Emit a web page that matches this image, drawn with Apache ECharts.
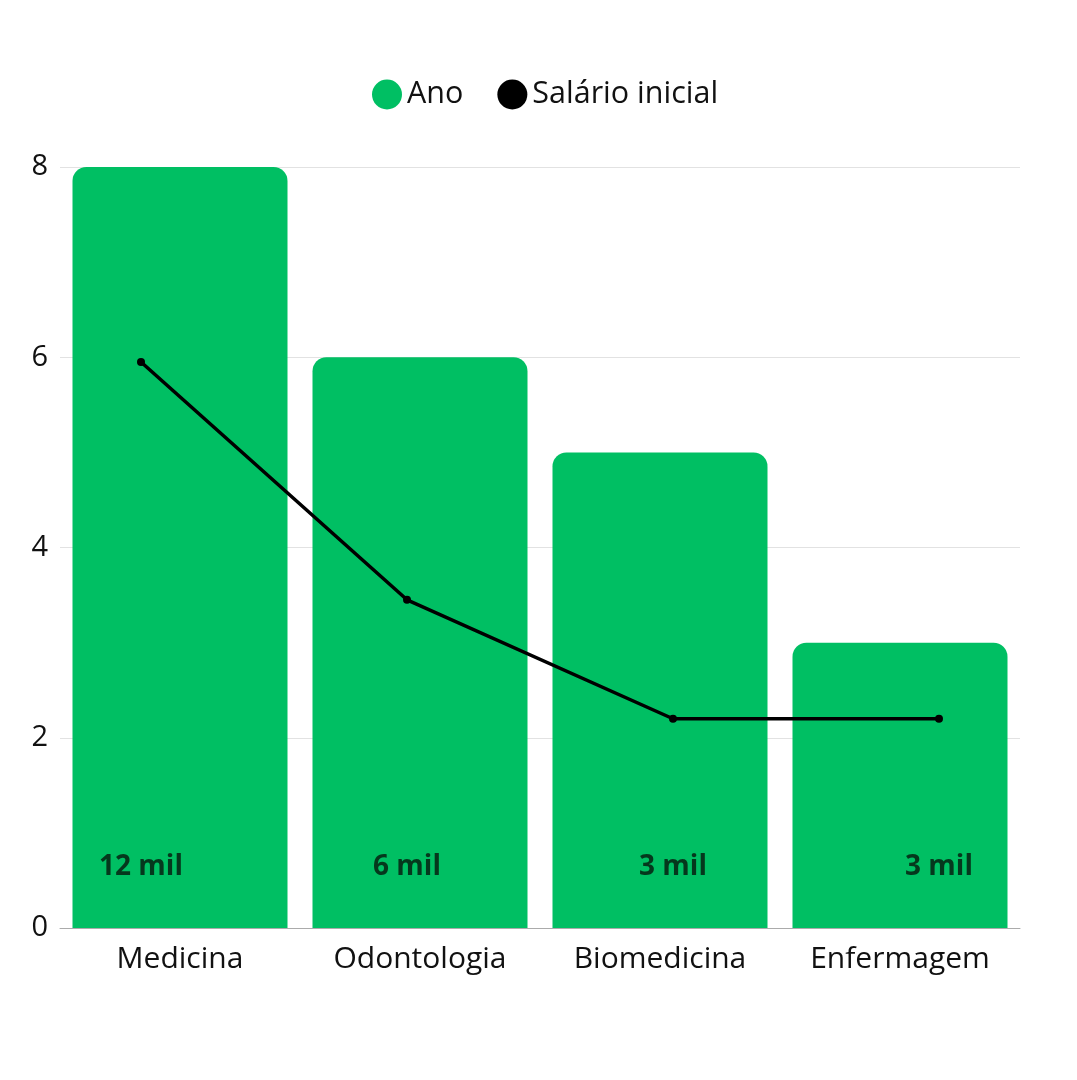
<!DOCTYPE html>
<html>
<head>
<meta charset="utf-8">
<script src="https://cdn.jsdelivr.net/npm/echarts@6/dist/echarts.min.js"></script>
<style>
html,body{margin:0;padding:0;background:#fff;}
#chart{width:1077px;height:1080px;}
</style>
</head>
<body>
<div id="chart"></div>
<script>
const categories = ['Medicina', 'Odontologia', 'Biomedicina', 'Enfermagem'];
const anos = [8, 6, 5, 3];
const salarioInicial = [5.95, 3.45, 2.2, 2.2];
const salarioLabels = ['12 mil', '6 mil', '3 mil', '3 mil'];
const yTicks = [0, 2, 4, 6, 8];

const FONT = '"Open Sans", "Noto Sans", sans-serif';
const chart = echarts.init(document.getElementById('chart'));
chart.setOption({
  backgroundColor: '#ffffff',
  animation: false,
  textStyle: { fontFamily: FONT },
  legend: {
    top: 74,
    left: 367,
    icon: 'circle',
    itemWidth: 30,
    itemHeight: 30,
    itemGap: 34,
    textStyle: { fontSize: 30.5, color: '#111', fontFamily: FONT },
    data: [
      { name: 'Ano', itemStyle: { color: '#00BF63' } },
      { name: 'Salário inicial', itemStyle: { color: '#000' } }
    ]
  },
  grid: [
    { left: 60, right: 57, top: 167, bottom: 152 },
    { left: 141, right: 138, top: 167, bottom: 152 }
  ],
  xAxis: [
    {
      type: 'category', gridIndex: 0, data: categories,
      axisTick: { show: false },
      axisLine: { lineStyle: { color: '#ababab', width: 1 } },
      axisLabel: { fontSize: 30, color: '#111', margin: 16, fontFamily: FONT }
    },
    {
      type: 'category', gridIndex: 1, data: categories, boundaryGap: false,
      show: false
    }
  ],
  yAxis: [
    {
      type: 'value', gridIndex: 0, min: yTicks[0], max: yTicks[yTicks.length - 1], interval: 2,
      axisLine: { show: false }, axisTick: { show: false },
      splitLine: { lineStyle: { color: '#e2e2e2', width: 1 } },
      axisLabel: { fontSize: 29, color: '#111', margin: 12, fontFamily: FONT }
    },
    {
      type: 'value', gridIndex: 1, min: yTicks[0], max: yTicks[yTicks.length - 1], show: false
    }
  ],
  series: [
    {
      name: 'Ano', type: 'bar', xAxisIndex: 0, yAxisIndex: 0,
      data: anos, barWidth: 215,
      itemStyle: { color: '#00BF63', borderRadius: [14, 14, 0, 0] }
    },
    {
      name: 'Salário inicial', type: 'line', xAxisIndex: 1, yAxisIndex: 1,
      data: salarioInicial,
      symbol: 'circle', symbolSize: 8,
      lineStyle: { color: '#000', width: 3.5 },
      itemStyle: { color: '#000' },
      z: 5
    },
    {
      name: 'labels', type: 'scatter', xAxisIndex: 1, yAxisIndex: 1,
      data: salarioLabels.map(() => 0),
      symbolSize: 0, silent: true,
      label: {
        show: true, position: 'top', distance: 47,
        formatter: p => salarioLabels[p.dataIndex],
        fontSize: 28, fontWeight: 'bold', color: '#06160b', fontFamily: FONT
      },
      z: 6
    }
  ]
});
</script>
</body>
</html>
